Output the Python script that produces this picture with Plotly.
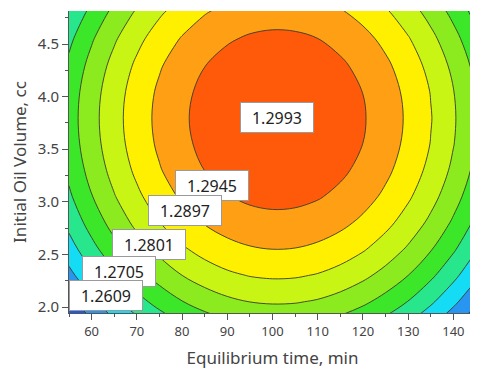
import plotly.graph_objects as go

# Equilibrium time (min) grid and initial oil volume (cc) grid
time_min = [55, 60, 65, 70, 75, 80, 85, 90, 95, 100, 105, 110, 115, 120, 125, 130, 135, 140, 145]
oil_cc = [1.8, 2.05, 2.3, 2.55, 2.8, 3.05, 3.3, 3.55, 3.8, 4.05, 4.3, 4.55, 4.8, 5.05]

# Response values (rows follow oil_cc, columns follow time_min)
response = [
    [1.25359, 1.25895, 1.26369, 1.26782, 1.27133, 1.27423, 1.27651, 1.27819, 1.27924, 1.27968, 1.27951, 1.27873, 1.27733, 1.27531, 1.27268, 1.26944, 1.26558, 1.26111, 1.25602],
    [1.25930, 1.26466, 1.26940, 1.27353, 1.27704, 1.27994, 1.28222, 1.28390, 1.28495, 1.28539, 1.28522, 1.28444, 1.28304, 1.28102, 1.27839, 1.27515, 1.27129, 1.26682, 1.26173],
    [1.26424, 1.26960, 1.27434, 1.27847, 1.28198, 1.28488, 1.28716, 1.28884, 1.28989, 1.29033, 1.29016, 1.28938, 1.28798, 1.28596, 1.28333, 1.28009, 1.27623, 1.27176, 1.26667],
    [1.26843, 1.27379, 1.27853, 1.28266, 1.28617, 1.28907, 1.29135, 1.29303, 1.29408, 1.29452, 1.29435, 1.29357, 1.29217, 1.29015, 1.28752, 1.28428, 1.28042, 1.27595, 1.27086],
    [1.27185, 1.27721, 1.28195, 1.28608, 1.28959, 1.29249, 1.29477, 1.29645, 1.29750, 1.29794, 1.29777, 1.29699, 1.29559, 1.29357, 1.29094, 1.28770, 1.28384, 1.27937, 1.27428],
    [1.27452, 1.27988, 1.28462, 1.28875, 1.29226, 1.29516, 1.29744, 1.29912, 1.30017, 1.30061, 1.30044, 1.29966, 1.29826, 1.29624, 1.29361, 1.29037, 1.28651, 1.28204, 1.27695],
    [1.27642, 1.28178, 1.28652, 1.29065, 1.29416, 1.29706, 1.29934, 1.30102, 1.30207, 1.30251, 1.30234, 1.30156, 1.30016, 1.29814, 1.29551, 1.29227, 1.28841, 1.28394, 1.27885],
    [1.27756, 1.28292, 1.28766, 1.29179, 1.29530, 1.29820, 1.30048, 1.30216, 1.30321, 1.30365, 1.30348, 1.30270, 1.30130, 1.29928, 1.29665, 1.29341, 1.28955, 1.28508, 1.27999],
    [1.27794, 1.28330, 1.28804, 1.29217, 1.29568, 1.29858, 1.30086, 1.30254, 1.30359, 1.30403, 1.30386, 1.30308, 1.30168, 1.29966, 1.29703, 1.29379, 1.28993, 1.28546, 1.28037],
    [1.27752, 1.28288, 1.28762, 1.29175, 1.29526, 1.29816, 1.30044, 1.30212, 1.30317, 1.30361, 1.30344, 1.30266, 1.30126, 1.29924, 1.29661, 1.29337, 1.28951, 1.28504, 1.27995],
    [1.27628, 1.28164, 1.28638, 1.29051, 1.29402, 1.29692, 1.29920, 1.30088, 1.30193, 1.30237, 1.30220, 1.30142, 1.30002, 1.29800, 1.29537, 1.29213, 1.28827, 1.28380, 1.27871],
    [1.27420, 1.27956, 1.28430, 1.28843, 1.29194, 1.29484, 1.29712, 1.29880, 1.29985, 1.30029, 1.30012, 1.29934, 1.29794, 1.29592, 1.29329, 1.29005, 1.28619, 1.28172, 1.27663],
    [1.27130, 1.27666, 1.28140, 1.28553, 1.28904, 1.29194, 1.29422, 1.29590, 1.29695, 1.29739, 1.29722, 1.29644, 1.29504, 1.29302, 1.29039, 1.28715, 1.28329, 1.27882, 1.27373],
    [1.26756, 1.27292, 1.27766, 1.28179, 1.28530, 1.28820, 1.29048, 1.29216, 1.29321, 1.29365, 1.29348, 1.29270, 1.29130, 1.28928, 1.28665, 1.28341, 1.27955, 1.27508, 1.26999],
]

level_start = 1.2609
level_end = 1.2993
level_step = 0.0048

# Contour labels and where they sit
label_text = ["1.2993", "1.2945", "1.2897", "1.2801", "1.2705", "1.2609"]
label_x = [101.1, 86.6, 80.55, 72.6, 66.1, 63.1]
label_y = [3.80, 3.154, 2.916, 2.593, 2.341, 2.108]

band_colors = ["#1E5AE6", "#2896F0", "#14DCF5", "#28E68C", "#3CE628",
               "#8CEB1E", "#C8F514", "#FFF000", "#FFA014", "#FF5A0A"]
colorscale = [[i / (len(band_colors) - 1), c] for i, c in enumerate(band_colors)]

fig = go.Figure()
fig.add_trace(go.Contour(
    x=time_min, y=oil_cc, z=response,
    autocontour=False,
    contours=dict(start=level_start, end=level_end + 1e-5, size=level_step, coloring="fill"),
    colorscale=colorscale,
    showscale=False,
    line=dict(color="#3a3a2a", width=0.9, smoothing=1.0),
    hoverinfo="skip",
))

for t, x, y in zip(label_text, label_x, label_y):
    fig.add_annotation(
        x=x, y=y, xref="x", yref="y", text=t, showarrow=False,
        font=dict(family="Noto Sans", size=16, color="#222222"),
        bgcolor="white", bordercolor="#9a9a9a", borderwidth=1, borderpad=0,
        width=72, height=29,
    )

xtick_font = dict(family="Noto Sans", size=13, color="#444444")
ytick_font = dict(family="Noto Sans", size=15, color="#444444")
title_font = dict(family="Noto Sans", size=17, color="#444444")
# the page body adds an 8 px offset, so the figure is sized 8 px smaller
fig.update_layout(
    width=470, height=361,
    margin=dict(l=61, r=2, t=3, b=56),
    paper_bgcolor="white", plot_bgcolor="white",
    showlegend=False,
    xaxis=dict(
        range=[55, 145], tickmode="linear", tick0=60, dtick=10, automargin=False,
        ticks="outside", ticklen=6, tickcolor="#555555", tickwidth=1,
        minor=dict(ticks="outside", ticklen=3, dtick=5, tick0=55, tickcolor="#555555"),
        showline=True, linecolor="#555555", linewidth=1,
        showgrid=False, zeroline=False, tickfont=xtick_font,
        title=dict(text="Equilibrium time, min", font=title_font, standoff=13),
    ),
    yaxis=dict(
        range=[1.943, 4.814], tickmode="linear", tick0=2.0, dtick=0.5, tickformat=".1f", automargin=False,
        ticks="outside", ticklen=6, tickcolor="#555555", tickwidth=1,
        minor=dict(ticks="outside", ticklen=3, dtick=0.25, tick0=2.0, tickcolor="#555555"),
        showline=True, linecolor="#555555", linewidth=1,
        showgrid=False, zeroline=False, tickfont=ytick_font,
        title=dict(text="Initial Oil Volume, cc", font=title_font, standoff=17),
    ),
)

fig.write_html("out.html")
